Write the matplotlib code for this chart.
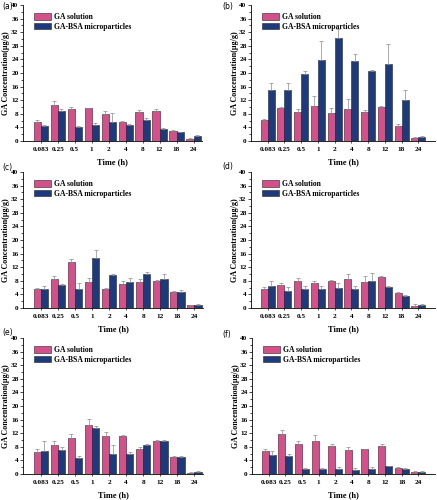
import numpy as np
import matplotlib
matplotlib.use("Agg")
import matplotlib.pyplot as plt
from matplotlib.ticker import MultipleLocator

plt.rcParams["font.family"] = ["Liberation Serif", "DejaVu Serif"]
plt.rcParams["font.weight"] = "bold"

times = ["0.083", "0.25", "0.5", "1", "2", "4", "8", "12", "18", "24"]

# (a)
sol_a = [5.6, 10.6, 9.4, 9.6, 8.0, 5.6, 8.6, 8.7, 3.0, 0.7]
sol_a_err = [0.7, 1.1, 0.7, 0.2, 0.8, 0.2, 0.6, 0.8, 0.3, 0.05]
mp_a = [4.5, 8.9, 4.1, 4.8, 5.6, 4.6, 6.3, 3.6, 2.6, 1.6]
mp_a_err = [0.2, 0.4, 0.3, 0.6, 2.6, 0.5, 0.5, 0.1, 0.1, 0.1]
# (b)
sol_b = [6.2, 9.6, 8.5, 10.2, 8.2, 9.4, 8.4, 10.0, 4.5, 1.0]
sol_b_err = [0.2, 0.5, 0.8, 2.9, 1.6, 2.9, 0.6, 0.3, 0.6, 0.2]
mp_b = [15.1, 15.1, 19.8, 23.7, 30.2, 23.5, 20.5, 22.7, 12.0, 1.3]
mp_b_err = [2.1, 2.1, 0.8, 5.8, 2.6, 2.0, 0.4, 5.9, 2.9, 0.1]
# (c)
sol_c = [5.5, 8.4, 13.4, 7.7, 5.7, 7.0, 7.6, 8.0, 4.6, 0.8]
sol_c_err = [0.3, 0.9, 1.0, 1.0, 0.3, 1.0, 0.8, 0.2, 0.4, 0.1]
mp_c = [5.5, 6.8, 5.5, 14.6, 9.8, 7.6, 10.0, 8.4, 4.8, 1.0]
mp_c_err = [1.1, 0.3, 1.9, 2.5, 0.1, 1.2, 0.6, 1.6, 0.6, 0.1]
# (d)
sol_d = [5.5, 6.7, 7.8, 7.5, 7.8, 8.4, 7.6, 9.1, 4.5, 0.6]
sol_d_err = [0.7, 0.7, 1.1, 0.4, 0.5, 1.6, 1.8, 0.4, 0.2, 0.5]
mp_d = [6.4, 5.0, 5.6, 5.7, 6.0, 5.7, 7.8, 6.3, 3.5, 0.9]
mp_d_err = [1.4, 1.2, 1.0, 0.8, 1.5, 0.7, 2.6, 0.3, 0.2, 0.2]
# (e)
sol_e = [6.5, 8.4, 10.6, 14.5, 11.2, 11.2, 7.4, 9.6, 5.1, 0.4]
sol_e_err = [1.0, 1.2, 1.1, 1.8, 1.1, 0.4, 0.4, 0.4, 0.2, 0.1]
mp_e = [6.8, 7.0, 4.7, 13.6, 5.9, 6.0, 8.5, 9.6, 5.1, 0.7]
mp_e_err = [2.9, 0.8, 0.5, 0.4, 2.5, 0.4, 0.3, 0.5, 0.1, 0.3]
# (f)
sol_f = [6.9, 11.9, 8.9, 9.7, 8.3, 7.2, 7.4, 8.3, 1.9, 0.7]
sol_f_err = [0.6, 1.1, 0.7, 1.7, 0.5, 0.7, 0.1, 0.6, 0.1, 0.1]
mp_f = [5.5, 5.2, 1.6, 1.6, 1.4, 1.1, 1.6, 2.3, 1.6, 0.7]
mp_f_err = [1.2, 0.6, 0.05, 0.05, 0.8, 0.6, 0.6, 0.1, 0.1, 0.2]

panels = [
    ("(a)", sol_a, sol_a_err, mp_a, mp_a_err),
    ("(b)", sol_b, sol_b_err, mp_b, mp_b_err),
    ("(c)", sol_c, sol_c_err, mp_c, mp_c_err),
    ("(d)", sol_d, sol_d_err, mp_d, mp_d_err),
    ("(e)", sol_e, sol_e_err, mp_e, mp_e_err),
    ("(f)", sol_f, sol_f_err, mp_f, mp_f_err),
]

pink = "#d4508a"
navy = "#1d3a7c"

fig = plt.figure(figsize=(4.37, 5.0), dpi=100)
W, H = 437.0, 500.0
# axes boxes in pixels: left, right, top, bottom
boxes = [(23, 202, 5, 141), (251, 435, 5, 141),
         (23, 203, 172, 308), (251, 435, 172, 308),
         (23, 203, 338, 474), (252, 435, 338, 474)]
label_pos = [(2, 6), (222, 6), (2, 167), (222, 166), (2, 332), (222, 334)]
ylab_x = [6, 235, 6, 235, 6, 236]  # centre of the rotated y label, px

x = np.arange(len(times))
w = 0.42
for i, (tag, s, se, m, me) in enumerate(panels):
    l, r, t, b = boxes[i]
    ax = fig.add_axes([l / W, 1 - b / H, (r - l) / W, (b - t) / H])
    ax.bar(x - w / 2, s, w, color=pink, edgecolor="#222222", linewidth=0.4,
           label="GA solution")
    ax.bar(x + w / 2, m, w, color=navy, edgecolor="#222222", linewidth=0.4,
           label="GA-BSA microparticles")
    ek = dict(ecolor="#8a8a8a", elinewidth=0.5, capsize=1.2, capthick=0.5, fmt="none")
    ax.errorbar(x - w / 2, s, yerr=[np.zeros(len(s)), se], **ek)
    ax.errorbar(x + w / 2, m, yerr=[np.zeros(len(m)), me], **ek)

    ax.set_ylim(0, 40)
    if i % 2 == 0:
        ax.set_xlim(-1.05, 9.5)
    else:
        ax.set_xlim(-1.0, 10.0)
    ax.yaxis.set_major_locator(MultipleLocator(4))
    ax.yaxis.set_minor_locator(MultipleLocator(2))
    ax.set_xticks(x)
    ax.set_xticklabels(times)
    for sp in ["top", "right"]:
        ax.spines[sp].set_visible(False)
    for sp in ["left", "bottom"]:
        ax.spines[sp].set_linewidth(0.6)
    ax.tick_params(axis="both", labelsize=5.2, width=0.5, length=2, pad=1.2)
    ax.tick_params(axis="y", which="minor", width=0.5, length=1.2)
    ax.tick_params(axis="x", length=1.5, pad=3)
    ax.set_xlabel("Time (h)", fontsize=6, fontweight="bold", labelpad=4)
    ax.set_ylabel("GA Concentration(μg/g)", fontsize=5.8, fontweight="bold",
                  va="center")
    ax.yaxis.set_label_coords((ylab_x[i] - l) / (r - l), 0.5)
    ax.legend(loc="upper left", bbox_to_anchor=(0.03, 0.98), frameon=False,
              fontsize=5.5, handlelength=2.3, handleheight=0.9,
              handletextpad=0.3, labelspacing=0.2, borderpad=0.2)
    lx, ly = label_pos[i]
    fig.text(lx / W, 1 - ly / H, tag, fontsize=5.5, fontweight="normal",
             family="DejaVu Sans", va="center", ha="left")

fig.savefig("out.png", dpi=100)
